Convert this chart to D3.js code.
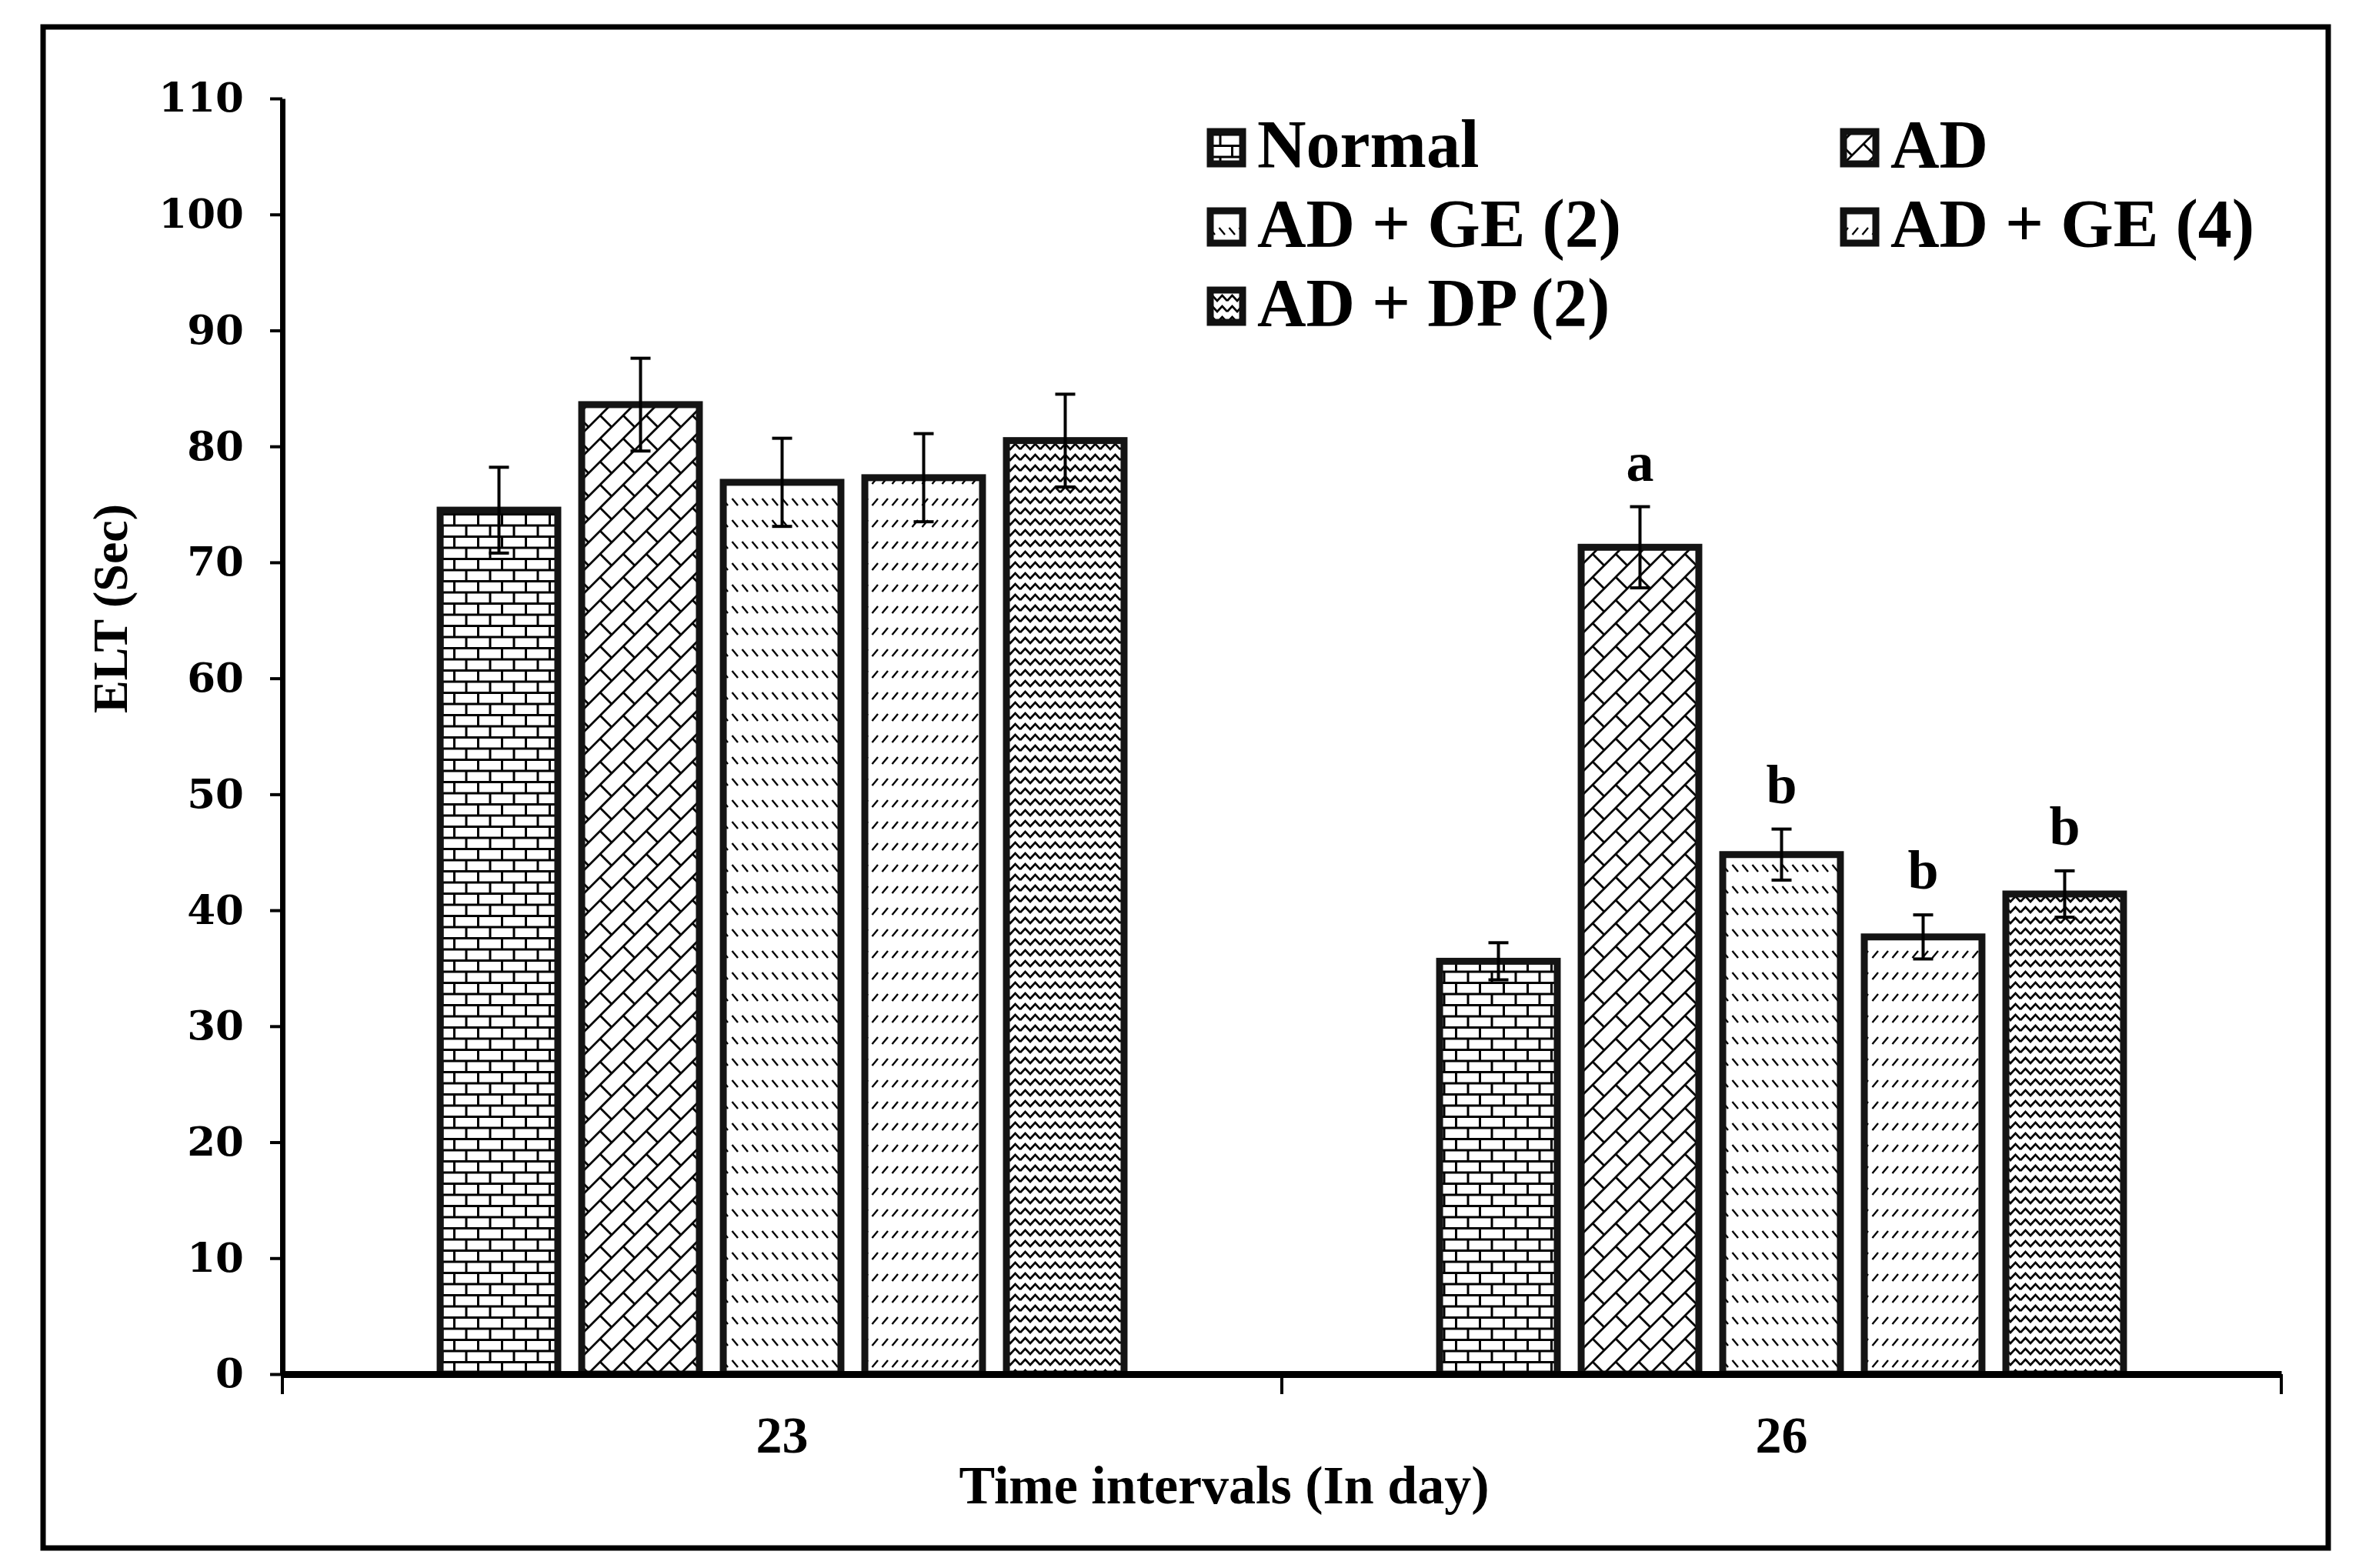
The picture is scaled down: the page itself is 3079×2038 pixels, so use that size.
<!DOCTYPE html>
<html>
<head>
<meta charset="utf-8">
<script src="https://cdn.jsdelivr.net/npm/d3@7"></script>
<style>
body { margin: 0; background: #fff; }
</style>
</head>
<body>
<div id="vis"></div>
<script>

// data
var days = ['23', '26'];
var groupNames = ['Normal', 'AD', 'AD + GE (2)', 'AD + GE (4)', 'AD + DP (2)'];
var day23 = [74.5, 83.6, 76.9, 77.3, 80.5];
var day26 = [35.6, 71.3, 44.8, 37.7, 41.4];
var err23 = [3.7, 4.0, 3.8, 3.8, 4.0];
var err26 = [1.6, 3.5, 2.2, 1.9, 2.0];
var sig23 = ['', '', '', '', ''];
var sig26 = ['', 'a', 'b', 'b', 'b'];
var yTicks = [0, 10, 20, 30, 40, 50, 60, 70, 80, 90, 100, 110];

var width = 3079, height = 2038;
var plot = { left: 367, right: 2965, top: 128, bottom: 1786 };
var serif = "'Liberation Serif', 'Times New Roman', serif";

var svg = d3.select('#vis')
    .append('svg')
    .attr('width', width)
    .attr('height', height);

svg.append('rect').attr('width', width).attr('height', height).attr('fill', '#fff');

// outer frame
svg.append('rect')
    .attr('x', 56).attr('y', 35)
    .attr('width', 3026 - 56).attr('height', 2012 - 35)
    .attr('fill', 'none')
    .attr('stroke', '#000')
    .attr('stroke-width', 7);

// fill patterns
var defs = svg.append('defs');
function addPattern(id, w, h, d, sw) {
    var p = defs.append('pattern')
        .attr('id', id)
        .attr('patternUnits', 'userSpaceOnUse')
        .attr('width', w)
        .attr('height', h);
    p.append('rect').attr('width', w).attr('height', h).attr('fill', '#fff');
    p.append('path').attr('d', d)
        .attr('fill', 'none')
        .attr('stroke', '#000')
        .attr('stroke-width', sw);
}
addPattern('pat0', 31, 29, 'M0,1.5H31 M0,16H31 M1.5,0V16 M17,16V29', 3);
addPattern('pat1', 30, 30, 'M-2,32L32,-2 M-2,2L2,-2 M28,32L32,28 M0,0L15,15', 2.8);
addPattern('pat2', 13, 28, 'M2.5,4L10,13', 2.4);
addPattern('pat3', 13, 28, 'M2.5,13L10,4', 2.4);
addPattern('pat4', 26, 14, 'M0,10L6.5,3L13,10L19.5,3L26,10', 2.6);

var x0 = d3.scaleBand()
    .domain(days)
    .range([plot.left, plot.right])
    .padding(0);

var x1 = d3.scaleBand()
    .domain(groupNames)
    .range([0, x0.bandwidth()])
    .paddingInner(0.12)
    .paddingOuter(1.09);

var y = d3.scaleLinear()
    .domain([0, 110])
    .range([plot.bottom, plot.top]);

var rows = days.map(function(d, i) {
    var vals = i == 0 ? day23 : day26;
    var errs = i == 0 ? err23 : err26;
    var sigs = i == 0 ? sig23 : sig26;
    return groupNames.map(function(g, j) {
        return { day: d, group: g, idx: j, value: vals[j], err: errs[j], sig: sigs[j] };
    });
});

// bars
var barStroke = 9;
var groupsG = svg.selectAll('.day')
    .data(rows)
    .enter()
    .append('g')
    .attr('class', 'day');

groupsG.selectAll('rect.bar')
    .data(function(d) { return d; })
    .enter()
    .append('rect')
    .attr('class', 'bar')
    .attr('x', function(d) { return x0(d.day) + x1(d.group) + barStroke / 2; })
    .attr('width', x1.bandwidth() - barStroke)
    .attr('y', function(d) { return y(d.value); })
    .attr('height', function(d) { return y(0) - y(d.value); })
    .attr('fill', function(d) { return 'url(#pat' + d.idx + ')'; })
    .attr('stroke', '#141414')
    .attr('stroke-width', barStroke);

// error bars
var cap = 13;
var errG = groupsG.selectAll('g.err')
    .data(function(d) { return d; })
    .enter()
    .append('g')
    .attr('class', 'err')
    .attr('stroke', '#000')
    .attr('stroke-width', 4);

errG.append('line')
    .attr('x1', function(d) { return x0(d.day) + x1(d.group) + x1.bandwidth() / 2; })
    .attr('x2', function(d) { return x0(d.day) + x1(d.group) + x1.bandwidth() / 2; })
    .attr('y1', function(d) { return y(d.value - d.err); })
    .attr('y2', function(d) { return y(d.value + d.err); });

errG.selectAll('line.cap')
    .data(function(d) { return [[d, d.value - d.err], [d, d.value + d.err]]; })
    .enter()
    .append('line')
    .attr('class', 'cap')
    .attr('x1', function(d) { return x0(d[0].day) + x1(d[0].group) + x1.bandwidth() / 2 - cap; })
    .attr('x2', function(d) { return x0(d[0].day) + x1(d[0].group) + x1.bandwidth() / 2 + cap; })
    .attr('y1', function(d) { return y(d[1]); })
    .attr('y2', function(d) { return y(d[1]); });

// significance letters
groupsG.selectAll('text.sig')
    .data(function(d) { return d.filter(function(e) { return e.sig != ''; }); })
    .enter()
    .append('text')
    .attr('class', 'sig')
    .attr('x', function(d) { return x0(d.day) + x1(d.group) + x1.bandwidth() / 2; })
    .attr('y', function(d) { return y(d.value + d.err) - 34; })
    .attr('text-anchor', 'middle')
    .style('font-family', serif)
    .style('font-weight', 'bold')
    .style('font-size', '72px')
    .text(function(d) { return d.sig; });

// y axis
var yAxis = d3.axisLeft(y)
    .tickValues(yTicks)
    .tickSize(16)
    .tickSizeOuter(0)
    .tickPadding(34);

var yG = svg.append('g')
    .attr('class', 'y axis')
    .attr('transform', 'translate(' + plot.left + ',0)')
    .call(yAxis);
yG.select('.domain').attr('stroke', '#000').attr('stroke-width', 7);
yG.selectAll('.tick line').attr('stroke', '#000').attr('stroke-width', 4);
yG.selectAll('.tick text')
    .attr('fill', '#000')
    .style('font-family', "'DejaVu Serif', serif")
    .style('font-weight', 'bold')
    .style('font-size', '53px');

// x axis: labels centred on the days, tick marks on the band edges
var xAxis = d3.axisBottom(x0)
    .tickSize(0)
    .tickSizeOuter(0)
    .tickPadding(54);

var xG = svg.append('g')
    .attr('class', 'x axis')
    .attr('transform', 'translate(0,' + plot.bottom + ')')
    .call(xAxis);
xG.select('.domain').attr('stroke', '#000').attr('stroke-width', 9);
xG.selectAll('.tick text')
    .attr('fill', '#000')
    .style('font-family', serif)
    .style('font-weight', 'bold')
    .style('font-size', '68px');

var edges = days.map(function(d) { return x0(d); }).concat([x0.range()[1]]);
xG.selectAll('line.edge')
    .data(edges)
    .enter()
    .append('line')
    .attr('class', 'edge')
    .attr('x1', function(d) { return d; })
    .attr('x2', function(d) { return d; })
    .attr('y1', 0)
    .attr('y2', 26)
    .attr('stroke', '#000')
    .attr('stroke-width', 4);

// axis titles
svg.append('text')
    .text('Time intervals (In day)')
    .attr('x', 1591)
    .attr('y', 1954)
    .attr('text-anchor', 'middle')
    .style('font-family', serif)
    .style('font-weight', 'bold')
    .style('font-size', '70px');

svg.append('text')
    .text('ELT (Sec)')
    .attr('transform', 'translate(165,791)rotate(-90)')
    .attr('text-anchor', 'middle')
    .style('font-family', serif)
    .style('font-weight', 'bold')
    .style('font-size', '64px');

// legend
var legend = svg.selectAll('.legend')
    .data(groupNames)
    .enter()
    .append('g')
    .attr('class', 'legend')
    .attr('transform', function(d, i) {
        return 'translate(' + (i % 2 == 0 ? 1569 : 2392) + ',' + (217 + Math.floor(i / 2) * 103) + ')';
    });

legend.append('rect')
    .attr('x', 4)
    .attr('y', -46)
    .attr('width', 42)
    .attr('height', 42)
    .attr('fill', function(d, i) { return 'url(#pat' + i + ')'; })
    .attr('stroke', '#111')
    .attr('stroke-width', 9);

legend.append('text')
    .attr('x', 65)
    .attr('y', 0)
    .style('font-family', serif)
    .style('font-weight', 'bold')
    .style('font-size', '88px')
    .text(function(d) { return d; });

</script>
</body>
</html>
